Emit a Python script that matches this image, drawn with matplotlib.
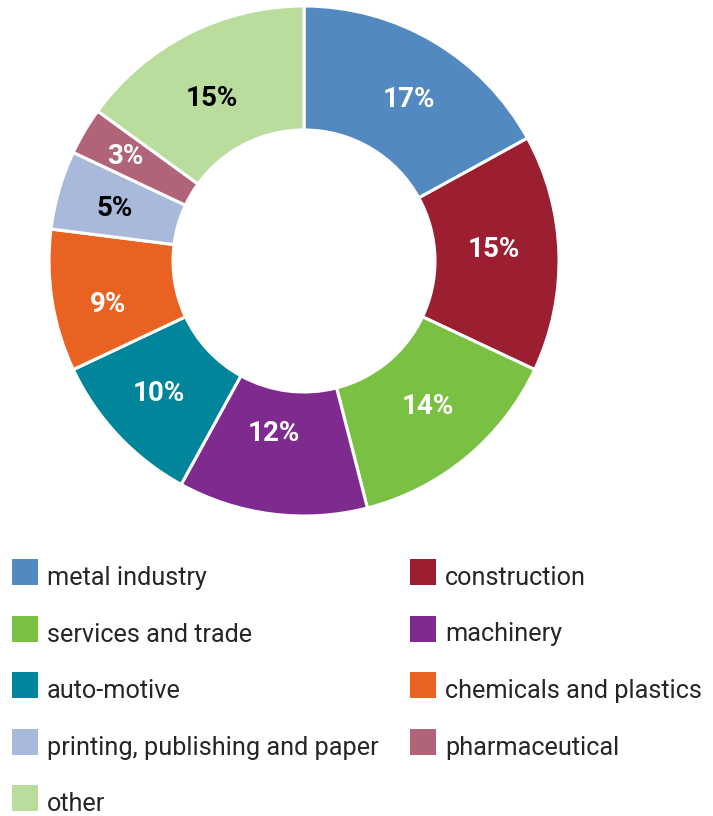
import numpy as np
import matplotlib
matplotlib.use("Agg")
import matplotlib.pyplot as plt
from matplotlib.patches import Rectangle

categories = ["metal industry", "construction", "services and trade", "machinery",
              "auto-motive", "chemicals and plastics", "printing, publishing and paper",
              "pharmaceutical", "other"]
shares = [17, 15, 14, 12, 10, 9, 5, 3, 15]
colors = ["#5289c0", "#9b1e31", "#79c043", "#7f2a8f", "#00859a", "#ea6222",
          "#a9b9dc", "#b16478", "#badc9d"]
label_colors = ["white", "white", "white", "white", "white", "white",
                "black", "white", "black"]
# small per-label nudges (pixels, x right / y down) away from the ring's mid-line
label_nudge = [(7, 5), (-3, -5), (1, -3), (-6, -19), (-4, 0), (-5, 13),
               (-4, 1), (-13, -6), (-4, 9)]

W, H = 713, 816
fig = plt.figure(figsize=(W / 100, H / 100), dpi=100)

# donut: centre (304, 261) px from the top-left, outer radius 255 px
cx, cy, R = 304, 261, 255
ax = fig.add_axes([(cx - R) / W, (H - cy - R) / H, 2 * R / W, 2 * R / H])
wedges, texts = ax.pie(
    shares, colors=colors, startangle=90, counterclock=False, radius=1.0,
    wedgeprops=dict(width=124 / 255, edgecolor="white", linewidth=2.2),
)
r_lab = 0.757
for w, v, c, (nx, ny) in zip(wedges, shares, label_colors, label_nudge):
    ang = np.deg2rad((w.theta1 + w.theta2) / 2)
    x = r_lab * np.cos(ang) + nx / R
    y = r_lab * np.sin(ang) - ny / R
    ax.text(x, y, f"{v}%", ha="center", va="center", color=c,
            fontsize=20, fontweight="bold", family=["Roboto", "DejaVu Sans"])
ax.set_xlim(-1, 1)
ax.set_ylim(-1, 1)
ax.set_aspect("equal")
ax.axis("off")

# legend in two columns
col_x = [12, 410]
row_top = 559
row_step = 56.5
sw = 26
for i, (name, col) in enumerate(zip(categories, colors)):
    r, c = divmod(i, 2)
    x0 = col_x[c]
    top = row_top + r * row_step
    fig.patches.append(Rectangle((x0 / W, (H - top - sw) / H), sw / W, sw / H,
                                 transform=fig.transFigure, facecolor=col,
                                 edgecolor="none"))
    fig.text((x0 + 35) / W, (H - top - sw) / H, name, fontsize=18.2,
             color="#262626", va="baseline", ha="left",
             family=["Roboto", "DejaVu Sans"])

fig.savefig("out.png", dpi=100, facecolor="white")
